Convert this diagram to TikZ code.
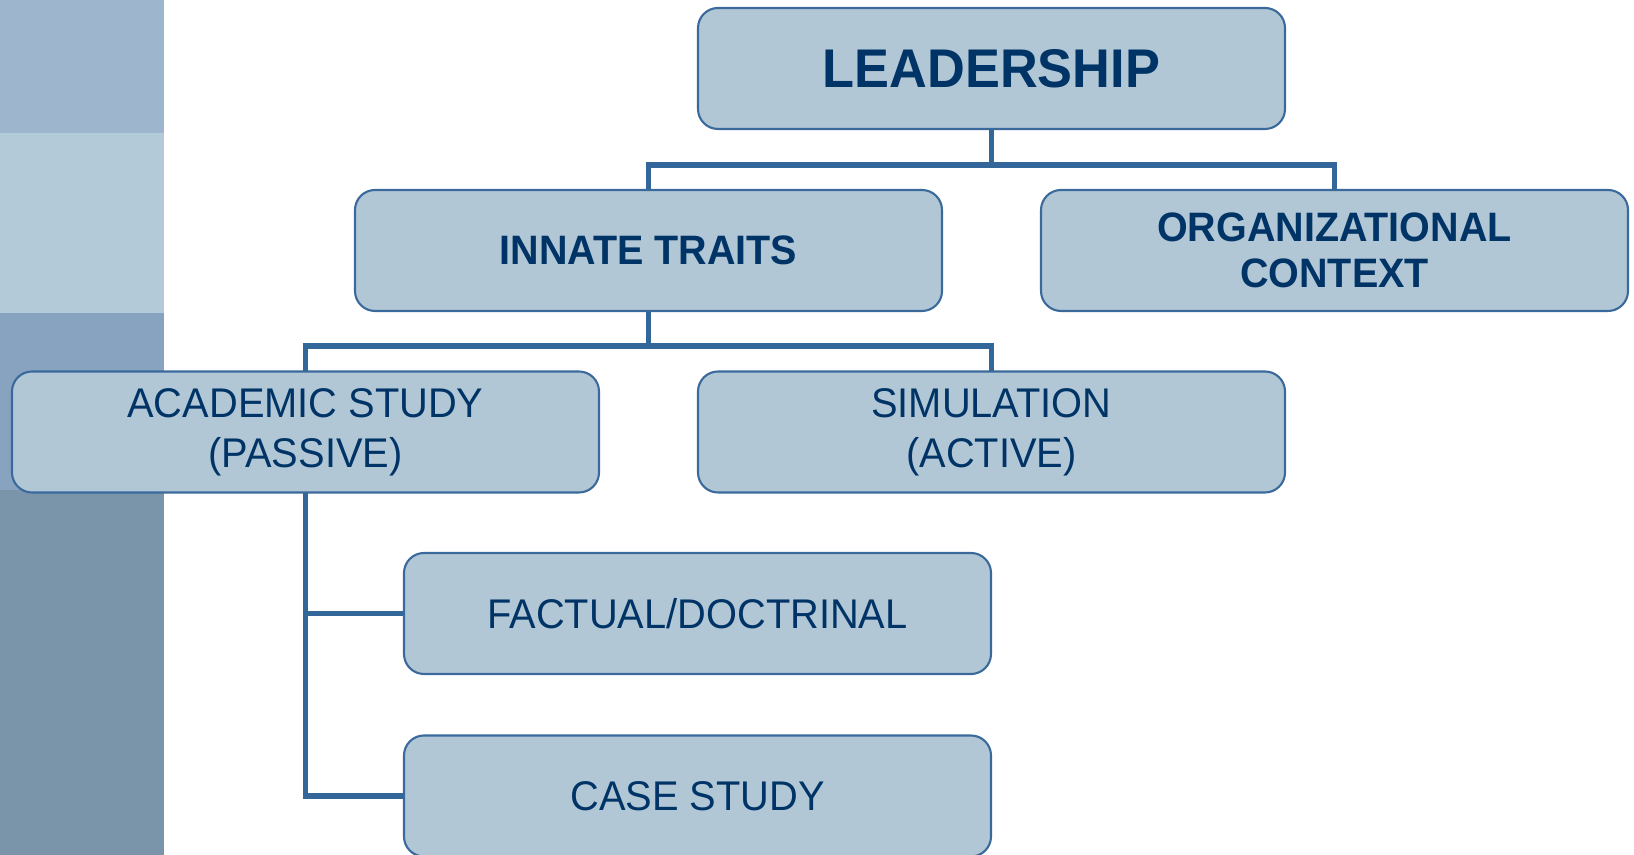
\documentclass[tikz,border=0pt]{standalone}
\usepackage{fontspec}
\setmainfont[FakeStretch=0.96]{Liberation Sans}
\definecolor{boxfill}{HTML}{B1C7D6}
\definecolor{boxline}{HTML}{3A6A9C}
\definecolor{conn}{HTML}{336699}
\definecolor{txt}{HTML}{003366}
\definecolor{bandA}{HTML}{9DB6CD}
\definecolor{bandB}{HTML}{B3CAD9}
\definecolor{bandC}{HTML}{87A3C0}
\definecolor{bandD}{HTML}{7A94AA}
\tikzset{
  orgbox/.style={draw=boxline, line width=0.6pt, fill=boxfill, rounded corners=0.2cm,
    minimum width=5.87cm, minimum height=1.21cm, align=center, text=txt, inner sep=0pt},
  toplvl/.style={orgbox, font=\fontsize{15.5}{18}\selectfont\bfseries},
  midlvl/.style={orgbox, font=\fontsize{11.7}{13}\selectfont\bfseries},
  lowlvl/.style={orgbox, font=\fontsize{11.8}{14.3}\selectfont},
  link/.style={draw=conn, line width=1.6pt}
}
\begin{document}
\begin{tikzpicture}
\clip (0,0) rectangle (16.34,8.55);
\fill[white] (0,0) rectangle (16.34,8.55);
% left strip
\fill[bandD] (0,0) rectangle (1.64,3.65);
\fill[bandC] (0,3.65) rectangle (1.64,5.42);
\fill[bandB] (0,5.42) rectangle (1.64,7.22);
\fill[bandA] (0,7.22) rectangle (1.64,8.55);
% connectors
\coordinate (bus1) at (0,6.90);
\coordinate (bus2) at (0,5.09);
\coordinate (leadS) at (9.915,7.255);
\coordinate (innN) at (6.485,6.655);
\coordinate (orgN) at (13.345,6.655);
\coordinate (innS) at (6.485,5.435);
\coordinate (acadN) at (3.055,4.84);
\coordinate (simN) at (9.915,4.84);
\coordinate (acadS) at (3.055,3.62);
\coordinate (factW) at (4.04,2.415);
\coordinate (caseW) at (4.04,0.59);
\path[link] (leadS) -- (leadS |- bus1) -| (innN);
\path[link] (leadS |- bus1) -| (orgN);
\path[link] (innS) -- (innS |- bus2) -| (acadN);
\path[link] (innS |- bus2) -| (simN);
\path[link] (acadS) |- (caseW);
\path[link] (acadS |- factW) -- (factW);
% boxes
\node[toplvl] (lead) at (9.915,7.865) {LEADERSHIP};
\node[midlvl] (innate) at (6.485,6.045) {INNATE TRAITS};
\node[midlvl] (org) at (13.345,6.045) {ORGANIZATIONAL\\CONTEXT};
\node[lowlvl] (acad) at (3.055,4.23) {ACADEMIC STUDY\\(PASSIVE)};
\node[lowlvl] (sim) at (9.915,4.23) {SIMULATION\\(ACTIVE)};
\node[lowlvl] (fact) at (6.975,2.415) {FACTUAL/DOCTRINAL};
\node[lowlvl] (case) at (6.975,0.59) {CASE STUDY};
\end{tikzpicture}
\end{document}
